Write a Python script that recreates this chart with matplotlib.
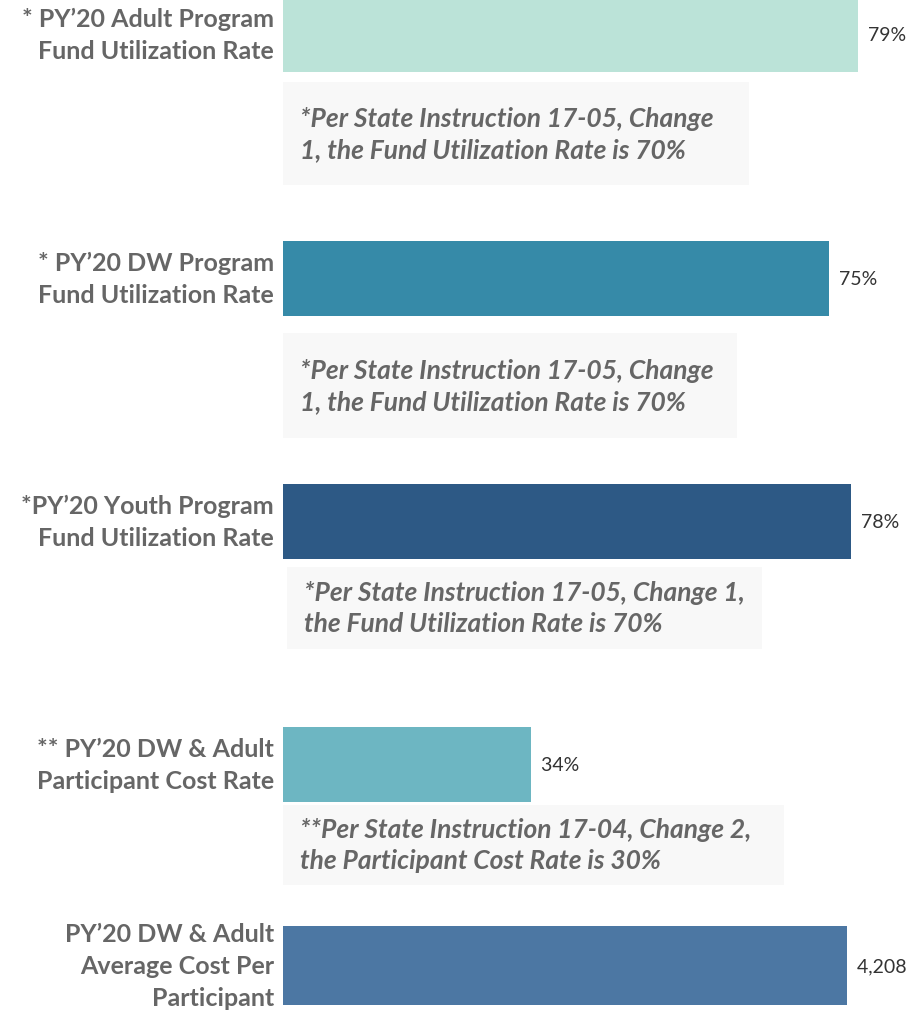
import matplotlib.pyplot as plt
from matplotlib.patches import Rectangle

# data
labels = [
    "* PY\u201920 Adult Program\nFund Utilization Rate",
    "* PY\u201920 DW Program\nFund Utilization Rate",
    "*PY\u201920 Youth Program\nFund Utilization Rate",
    "** PY\u201920 DW & Adult\nParticipant Cost Rate",
    "PY\u201920 DW & Adult\nAverage Cost Per\nParticipant",
]
values = [79, 75, 78, 34, 4208]
value_text = ["79%", "75%", "78%", "34%", "4,208"]
colors = ["#bbe3d8", "#368aa8", "#2d5985", "#6db6c2", "#4c77a3"]
notes = [
    "*Per State Instruction 17-05, Change\n1, the Fund Utilization Rate is 70%",
    "*Per State Instruction 17-05, Change\n1, the Fund Utilization Rate is 70%",
    "*Per State Instruction 17-05, Change 1,\nthe Fund Utilization Rate is 70%",
    "**Per State Instruction 17-04, Change 2,\nthe Participant Cost Rate is 30%",
    None,
]

# layout in pixels (top, bottom) for each bar row
W, H = 920, 1012
bar_rows = [(-2, 73), (242, 317), (485, 560), (728, 803), (927, 1006)]
note_boxes = [(283, 83, 749, 186), (283, 334, 737, 439), (287, 568, 762, 650), (283, 806, 784, 886)]
x0, x1 = 283, 900
px_per_unit = [7.28, 7.28, 7.28, 7.28, 564 / 4208]

plt.rcParams['font.family'] = ['Lato', 'DejaVu Sans']
fig = plt.figure(figsize=(W / 100, H / 100), dpi=100)
fig.patch.set_facecolor("white")

for i, (top, bot) in enumerate(bar_rows):
    ax = fig.add_axes([x0 / W, 1 - bot / H, (x1 - x0) / W, (bot - top) / H])
    ax.set_xlim(0, (x1 - x0) / px_per_unit[i])
    ax.set_ylim(0, 1)
    ax.barh(0.5, values[i], height=1, color=colors[i], left=0)
    ax.text(values[i], 0.5, "  " + value_text[i], va="center", ha="left",
            fontsize=14, color="#333333")
    ax.text(-9 / px_per_unit[i], 0.5, labels[i], va="center", ha="right",
            fontsize=18, fontweight="bold", color="#666666", linespacing=1.45)
    ax.axis("off")

for note, box in zip(notes, note_boxes):
    l, t, r, b = box
    fig.patches.append(Rectangle((l / W, 1 - b / H), (r - l) / W, (b - t) / H,
                                 transform=fig.transFigure, facecolor="#f8f8f8",
                                 edgecolor="none", zorder=0))
    fig.text((l + 17) / W, 1 - ((t + b) / 2) / H, note, va="center", ha="left",
             fontsize=19, fontweight="bold", fontstyle="italic", color="#666666",
             linespacing=1.35)

fig.savefig("out.png", dpi=100)
